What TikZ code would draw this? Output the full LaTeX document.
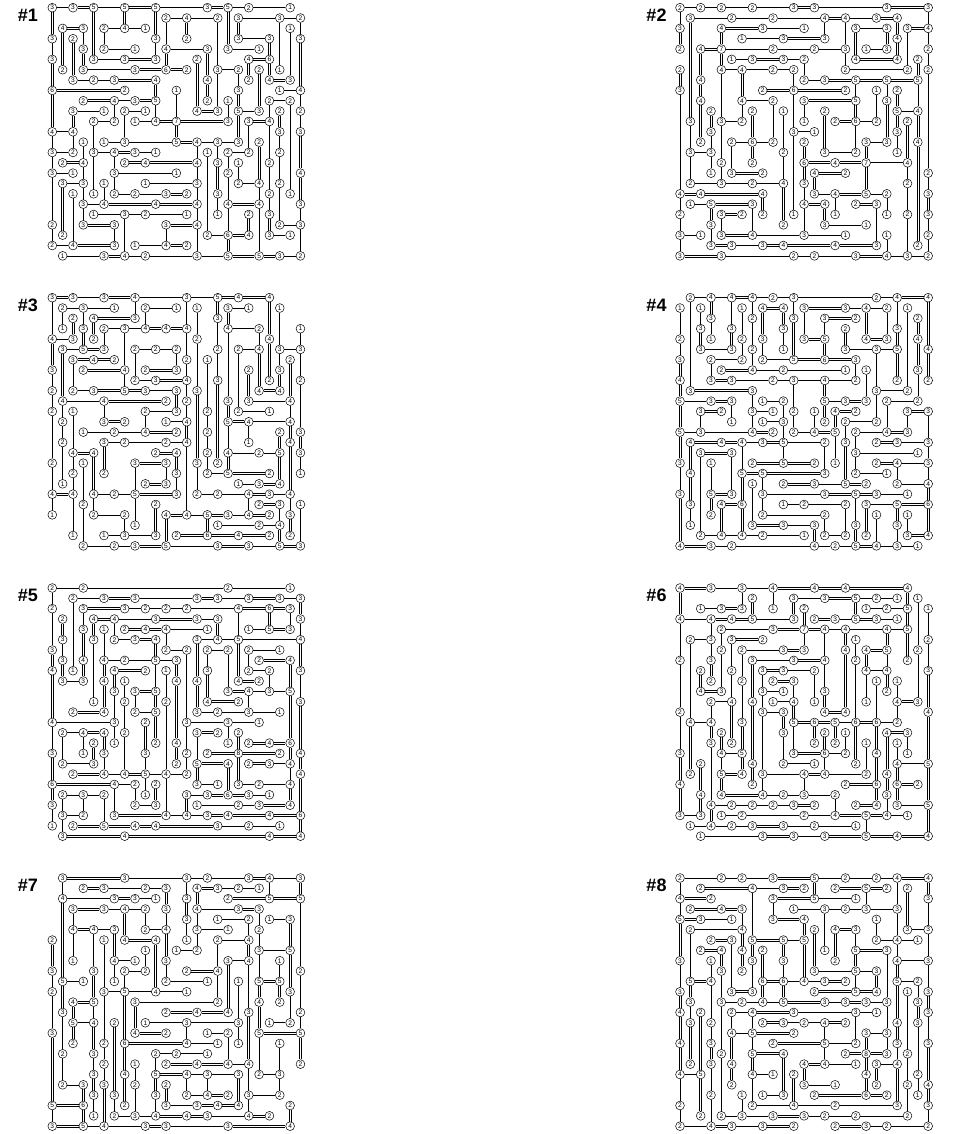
\documentclass[tikz,border=0pt]{standalone}
\usepackage{fontspec}
\setmainfont{Liberation Sans}
\tikzset{
  isl/.style={circle,draw=black,fill=white,line width=.5pt,minimum size=8.8pt,inner sep=0pt,font=\fontsize{6.6}{7}\selectfont},
  bridge/.style={line width=.6pt,draw=black},
  ttl/.style={font=\bfseries\fontsize{18}{20}\selectfont,inner sep=0pt}
}
\newcommand\Hb[3]{\ifnum#3=2
    \draw[bridge] ([yshift=1pt]#1.east) -- ([yshift=1pt]#2.west);
    \draw[bridge] ([yshift=-1pt]#1.east) -- ([yshift=-1pt]#2.west);
  \else \draw[bridge] (#1) -- (#2); \fi}
\newcommand\Vb[3]{\ifnum#3=2
    \draw[bridge] ([xshift=1pt]#1.south) -- ([xshift=1pt]#2.north);
    \draw[bridge] ([xshift=-1pt]#1.south) -- ([xshift=-1pt]#2.north);
  \else \draw[bridge] (#1) -- (#2); \fi}
\newcommand\Rw[2]{\gdef\prevc{}\gdef\prevl{0}%
  \foreach \cc/\nm/\lk in {#2}{%
    \node[isl] (\pz-\cc-#1) at ({\xo+\cc*10.34},{\yo-#1*10.34}) {\nm};
    \ifnum\prevl>0 \Hb{\pz-\prevc-#1}{\pz-\cc-#1}{\prevl}\fi
    \xdef\prevc{\cc}\xdef\prevl{\lk}}}
\newcommand\Vt[2]{\foreach \aa/\bb/\ty in {#2}{\Vb{\pz-#1-\aa}{\pz-#1-\bb}{\ty}}}
\begin{document}
\begin{tikzpicture}[x=1pt,y=1pt]
\useasboundingbox (0,0) rectangle (957,-1134);
\node[ttl] (t1) at (28,-15) {\#1};
\node[ttl] (t2) at (656.5,-15) {\#2};
\node[ttl] (t3) at (28,-305) {\#3};
\node[ttl] (t4) at (656.5,-305) {\#4};
\node[ttl] (t5) at (28,-595) {\#5};
\node[ttl] (t6) at (656.5,-595) {\#6};
\node[ttl] (t7) at (28,-885) {\#7};
\node[ttl] (t8) at (656.5,-885) {\#8};
% ---------------- 1
\def\pz{1}\def\xo{52.3}\def\yo{-7.7}
\Rw{0}{0/3/1,2/3/2,4/5/1,7/5/2,10/5/1,15/3/2,17/5/1,19/2/1,23/1/0}
\Rw{1}{11/2/1,13/4/1,16/2/0,18/3/1,22/3/1,24/2/0}
\Rw{2}{1/4/2,3/3/0,5/2/1,7/4/1,9/1/0,23/1/0}
\Rw{3}{0/3/0,2/2/0,10/3/0,13/2/0,18/3/1,21/3/0,24/3/0}
\Rw{4}{3/3/0,5/2/1,8/1/0,11/4/1,15/3/0,17/3/1,20/1/0}
\Rw{5}{0/3/0,4/3/1,7/3/2,10/3/0,14/2/0,19/4/2,21/6/0}
\Rw{6}{1/2/0,3/3/1,8/3/2,11/6/2,13/2/0,16/3/1,18/2/0,20/2/0,22/1/0}
\Rw{7}{2/3/1,4/2/1,6/3/2,10/4/0,15/4/0,19/2/0,21/4/2,23/3/0}
\Rw{8}{0/6/2,7/2/0,12/1/0,18/3/0,22/1/1,24/4/0}
\Rw{9}{3/2/2,6/4/1,8/3/2,10/5/0,15/2/0,17/1/0,21/2/1,23/2/0}
\Rw{10}{2/3/1,5/1/0,7/2/1,9/1/0,14/4/2,16/3/0,18/5/1,20/3/0,22/2/0,24/2/0}
\Rw{11}{4/2/1,6/2/0,8/1/1,10/4/2,12/7/2,17/3/0,19/3/2,21/4/0}
\Rw{12}{0/4/1,2/4/0,22/3/0,24/3/0}
\Rw{13}{3/1/0,5/1/1,7/3/1,12/5/2,14/4/1,16/3/1,18/3/0,20/2/0}
\Rw{14}{0/3/1,2/2/0,4/3/1,6/4/2,8/3/1,10/1/0,15/1/0,17/2/1,19/2/0,22/2/0}
\Rw{15}{1/2/2,3/4/0,7/2/2,9/4/2,14/4/0,16/3/0,18/1/0,21/2/0}
\Rw{16}{0/3/1,2/1/0,6/3/1,12/1/0,17/2/0,24/4/0}
\Rw{17}{1/3/1,3/3/0,5/1/0,9/1/1,14/3/0,18/2/1,20/4/0,22/2/0}
\Rw{18}{2/1/0,4/1/0,6/2/1,8/2/1,11/3/2,13/2/0,16/3/0,21/2/0,23/1/0}
\Rw{19}{3/3/1,5/4/2,10/4/2,14/4/0,17/4/2,20/4/0,24/3/0}
\Rw{20}{4/1/1,7/3/1,9/2/1,13/1/0,16/1/0,19/2/0,21/3/0}
\Rw{21}{0/2/0,3/3/2,6/3/0,11/3/2,14/4/0,22/2/1,24/3/0}
\Rw{22}{1/2/0,15/2/1,17/6/2,19/4/0,21/3/1,23/1/0}
\Rw{23}{0/2/1,2/4/2,6/3/0,8/1/1,11/4/2,13/2/0}
\Rw{24}{1/1/1,5/3/2,7/4/1,9/2/1,14/3/1,17/5/2,20/5/2,22/3/1,24/2/0}
\Vt{0}{0/3/2,3/5/1,5/8/2,8/12/2,12/14/1,14/16/1,16/21/1,21/23/1}
\Vt{1}{2/6/2,17/22/2}
\Vt{2}{3/7/2,10/12/2,12/14/1,18/23/1}
\Vt{3}{2/4/1,4/6/2,13/15/1,15/17/1,17/19/1,19/21/1}
\Vt{4}{0/5/2,11/14/1,14/18/1}
\Vt{5}{2/4/1,17/19/1}
\Vt{6}{9/11/1,14/16/1,16/18/1,21/23/1}
\Vt{7}{0/2/2,10/13/1,20/24/1}
\Vt{10}{0/3/2,3/5/1,7/9/2,9/11/1}
\Vt{11}{1/4/1,4/6/2,21/23/1}
\Vt{12}{8/11/1,11/13/2}
\Vt{13}{1/3/2}
\Vt{14}{5/10/2,13/15/1,15/17/1,17/19/1,19/21/1,21/24/1}
\Vt{15}{4/7/2,7/9/2,14/22/1}
\Vt{16}{1/6/1,6/10/1,13/15/1,15/18/2,18/20/1}
\Vt{17}{0/4/2,9/11/1,14/16/1,16/19/1,19/22/1,22/24/2}
\Vt{18}{1/3/2,6/8/1,8/10/2,10/13/2,15/17/1}
\Vt{19}{5/7/2,11/14/1,20/22/2}
\Vt{20}{6/10/2,13/17/2,17/19/1,19/24/1}
\Vt{21}{3/5/2,5/7/2,9/11/1,11/15/1,15/18/1,18/20/1,20/22/2}
\Vt{22}{1/6/1,10/12/2,12/14/1,14/17/1,17/21/1}
\Vt{23}{2/7/1,9/18/1}
\Vt{24}{1/3/1,3/8/2,8/10/1,10/12/1,12/16/2,16/19/2,19/21/1,21/24/1}
% ---------------- 2
\def\pz{2}\def\xo{680}\def\yo{-7.7}
\Rw{0}{0/2/1,2/2/1,4/2/1,7/2/1,11/3/2,13/3/1,20/3/2,24/3/0}
\Rw{1}{1/3/1,5/2/1,9/2/1,14/4/2,16/4/1,19/3/2,21/4/0}
\Rw{2}{0/3/0,4/4/2,8/3/1,12/1/0,17/3/1,20/3/0,22/3/2,24/4/0}
\Rw{3}{6/1/1,10/3/2,14/3/0,21/4/0}
\Rw{4}{0/2/0,2/4/2,4/7/1,9/2/1,13/2/1,16/3/0,18/1/1,20/3/0,24/2/0}
\Rw{5}{5/1/1,7/3/2,10/3/1,12/2/0,17/4/2,21/4/0,23/2/0}
\Rw{6}{0/2/0,4/4/1,6/4/1,9/2/1,11/2/0,16/2/1,22/2/0,24/2/0}
\Rw{7}{2/4/0,12/2/1,14/3/2,17/5/2,20/5/2,23/5/0}
\Rw{8}{0/3/0,8/2/2,11/6/2,16/2/0,19/1/0,21/2/0}
\Rw{9}{2/4/0,6/4/1,9/2/0,12/3/2,17/5/0,20/3/0}
\Rw{10}{3/2/0,7/2/0,10/1/0,14/2/0,21/5/1,23/4/0}
\Rw{11}{1/3/0,4/3/1,6/2/0,12/1/0,15/2/2,17/6/1,19/2/0,22/2/0}
\Rw{12}{3/3/0,11/3/1,13/1/0,21/3/0}
\Rw{13}{2/2/0,5/2/1,7/6/1,9/2/0,12/2/0,18/3/1,20/3/0,23/4/0}
\Rw{14}{1/3/1,3/3/0,10/2/0,14/3/1,17/2/0,21/1/0}
\Rw{15}{4/2/0,7/2/0,12/6/2,15/4/2,18/7/1,22/4/0}
\Rw{16}{3/1/0,5/3/2,8/2/0,13/4/2,16/2/0,24/2/0}
\Rw{17}{1/2/1,4/3/1,7/2/1,10/4/0,12/3/0,22/2/0}
\Rw{18}{0/4/2,2/4/2,8/4/0,13/3/1,15/4/2,18/5/1,20/2/0,24/3/0}
\Rw{19}{1/1/1,3/5/2,7/3/0,12/4/2,14/4/0,17/2/2,19/3/0}
\Rw{20}{0/2/0,4/3/2,6/2/0,8/2/0,11/1/0,15/1/0,20/1/0,22/2/0,24/3/0}
\Rw{21}{3/3/0,10/2/0,14/3/1,18/1/0}
\Rw{22}{0/3/1,2/1/0,4/3/2,7/4/1,12/3/1,16/1/0,20/1/0,24/2/0}
\Rw{23}{3/3/2,5/3/1,8/3/2,10/4/2,15/4/2,19/3/0,23/2/0}
\Rw{24}{0/3/2,4/3/1,11/2/1,13/2/1,17/3/2,20/4/1,22/3/1,24/2/0}
\Vt{0}{0/2/1,2/4/2,6/8/2,8/18/1,18/20/1,20/22/1,22/24/1}
\Vt{1}{1/11/2,11/14/1,14/17/1}
\Vt{2}{4/7/2,7/9/2,9/13/2}
\Vt{3}{10/12/2,12/14/1,14/16/1,19/21/2,21/23/1}
\Vt{4}{2/4/2,4/6/2,6/11/1,11/15/1,15/17/1,20/22/1}
\Vt{5}{13/16/1}
\Vt{6}{6/9/2,9/11/1}
\Vt{7}{10/13/2,13/15/2,19/22/1}
\Vt{8}{18/20/2}
\Vt{9}{9/13/1}
\Vt{10}{10/14/1,14/17/1,17/21/2}
\Vt{11}{6/8/1,8/12/1,12/20/1}
\Vt{12}{5/7/1,9/11/1,13/15/2,15/17/2,17/19/1,19/22/1}
\Vt{13}{16/18/2}
\Vt{14}{1/3/1,10/14/2,19/21/2}
\Vt{15}{18/20/1}
\Vt{16}{1/4/1,4/6/1}
\Vt{17}{2/5/2,7/9/1,9/11/2,11/14/1}
\Vt{18}{13/15/2,15/18/2}
\Vt{19}{8/11/1,19/23/1}
\Vt{20}{2/4/2,7/9/1,9/13/2,18/20/1,22/24/1}
\Vt{21}{1/3/2,3/5/2,8/10/2,10/12/2,12/14/1}
\Vt{22}{2/6/1,11/15/2,15/17/1,17/20/1,20/24/1}
\Vt{23}{5/7/2,7/10/1,10/13/2,13/23/2}
\Vt{24}{0/2/1,2/4/1,4/6/1,6/16/1,16/18/1,18/20/2,20/22/1,22/24/1}
% ---------------- 3
\def\pz{3}\def\xo{52.3}\def\yo{-297.7}
\Rw{0}{0/3/2,2/3/1,5/3/2,8/4/1,13/3/1,16/5/2,18/4/2,21/4/0}
\Rw{1}{1/2/1,3/3/1,6/1/0,9/2/1,12/1/0,14/1/0,17/3/1,19/1/0,22/1/0}
\Rw{2}{2/2/0,4/4/2,8/3/0,16/3/0}
\Rw{3}{1/1/0,3/3/0,5/2/1,7/3/1,9/4/2,11/4/2,13/4/0,17/4/1,20/2/0,24/1/0}
\Rw{4}{0/4/1,2/3/0,4/2/0,14/2/0,21/4/0}
\Rw{5}{1/3/1,3/5/2,5/3/0,8/2/1,10/2/1,12/2/0,16/2/0,18/2/1,20/4/0,22/3/1,24/3/0}
\Rw{6}{2/3/2,4/4/2,6/2/0,13/2/0,15/1/0,23/2/0}
\Rw{7}{0/3/0,3/2/2,7/4/0,9/2/2,12/3/0,19/2/0,22/3/0}
\Rw{8}{8/2/1,10/3/2,13/4/0,16/3/0,21/2/0,24/2/0}
\Rw{9}{0/2/0,2/2/1,4/3/2,7/5/2,9/3/1,12/3/0,14/3/0,20/4/2,22/4/0}
\Rw{10}{1/4/1,5/4/2,11/2/0,13/2/0,17/3/0,19/3/1,23/4/0}
\Rw{11}{0/2/0,2/1/0,9/2/1,12/3/0,15/2/0,18/2/1,21/1/0}
\Rw{12}{1/2/0,5/3/2,7/2/0,11/1/1,13/4/0,17/5/2,19/4/1,23/4/0}
\Rw{13}{3/1/1,6/2/1,9/4/2,12/2/0,15/2/0,22/2/0,24/3/0}
\Rw{14}{1/2/0,5/3/1,7/2/1,11/2/1,13/4/0,19/1/0,23/4/0}
\Rw{15}{2/4/2,4/4/0,10/2/2,12/4/0,15/2/0,17/4/1,20/2/1,22/5/0,24/3/0}
\Rw{16}{0/2/0,3/1/0,8/3/2,11/3/0,14/3/0,16/2/0}
\Rw{17}{2/2/0,5/2/0,12/3/0,15/2/1,17/5/2,21/2/0,24/1/0}
\Rw{18}{1/1/0,9/2/2,11/3/0,18/1/1,20/3/2,22/4/0}
\Rw{19}{0/4/2,2/4/0,4/4/1,6/2/1,8/5/2,12/3/0,14/2/1,16/2/1,19/4/2,21/3/1,23/4/0}
\Rw{20}{3/2/0,10/2/0,20/2/2,22/3/0,24/1/0}
\Rw{21}{0/1/0,4/2/1,7/2/0,11/4/2,13/4/1,15/5/2,17/3/1,19/4/2,21/2/0,23/3/0}
\Rw{22}{8/1/0,16/1/1,20/2/1,22/4/0}
\Rw{23}{2/1/0,5/1/1,7/3/1,10/3/0,12/2/2,15/6/2,18/4/2,21/2/0,23/2/0}
\Rw{24}{3/2/1,6/2/1,8/3/2,11/5/1,16/3/2,19/3/1,22/5/2,24/3/0}
\Vt{0}{0/4/1,4/7/2,7/9/1,9/11/1,11/16/1,16/19/1,19/21/1}
\Vt{1}{1/3/1,5/10/2,10/12/1,12/14/1,14/18/1}
\Vt{2}{2/4/2,6/9/1,11/15/1,15/17/1,17/19/1,19/23/1}
\Vt{3}{1/3/1,3/5/2,16/20/1,20/24/1}
\Vt{4}{2/4/2,15/19/2,19/21/1}
\Vt{5}{3/5/1,10/12/1,14/17/2}
\Vt{7}{3/7/1,7/9/1,21/23/1}
\Vt{8}{0/2/1,5/8/1,16/19/1,19/22/1}
\Vt{9}{1/3/1,11/13/1}
\Vt{10}{20/23/2}
\Vt{11}{16/18/1,21/24/2}
\Vt{12}{5/7/1,9/11/2,15/17/2,17/19/1}
\Vt{13}{0/3/1,3/6/1,6/8/1,8/10/1,10/12/1,12/14/2,14/21/1}
\Vt{14}{1/4/1,4/9/1,9/16/2,16/19/1}
\Vt{15}{6/11/1,11/13/1,13/15/1,15/17/1,21/23/2}
\Vt{16}{0/2/2,2/5/1,5/8/1,8/16/2}
\Vt{17}{1/3/2,3/10/1,10/12/2,12/15/1,15/17/2}
\Vt{18}{5/11/1}
\Vt{19}{7/10/2,12/14/1,19/21/1}
\Vt{20}{3/5/1,5/9/2}
\Vt{21}{0/4/2,4/8/2}
\Vt{22}{1/5/1,5/7/1,7/9/2,13/15/2,15/18/2,20/22/1,22/24/2}
\Vt{23}{6/10/2,10/12/1,12/14/2,14/19/2,19/21/1,21/23/2}
\Vt{24}{3/5/1,5/8/1,8/13/1,13/15/2,15/17/1,20/24/1}
% ---------------- 4
\def\pz{4}\def\xo{680}\def\yo{-297.7}
\Rw{0}{1/2/1,3/4/1,5/4/2,7/4/1,9/2/1,11/3/1,19/2/1,21/4/2,24/4/0}
\Rw{1}{0/1/0,2/1/0,6/1/0,8/4/2,10/4/0,12/3/2,16/3/1,18/4/1,20/2/0,22/1/0}
\Rw{2}{3/3/0,7/2/0,11/3/0,14/3/2,17/2/0,23/2/0}
\Rw{3}{2/3/0,5/3/0,10/3/0,16/2/0,21/3/0}
\Rw{4}{0/2/0,3/1/0,6/2/0,8/3/0,12/3/2,14/5/0,18/4/2,20/3/0,23/4/0}
\Rw{5}{2/3/1,5/3/0,7/2/0,10/1/0,16/3/1,19/3/1,21/5/0,24/4/0}
\Rw{6}{0/3/0,3/2/1,6/2/0,8/2/1,11/5/2,14/6/2,17/3/0}
\Rw{7}{4/2/2,7/4/1,10/2/1,16/1/0,18/1/0,23/3/0}
\Rw{8}{0/4/0,3/3/2,5/3/1,9/2/1,11/3/1,14/4/1,17/2/0,21/2/0,24/2/0}
\Rw{9}{1/3/2,7/3/0,19/3/1,22/2/0}
\Rw{10}{0/5/1,3/3/2,5/3/0,8/1/1,10/2/0,14/5/1,16/3/2,18/3/0,20/2/1,23/2/0}
\Rw{11}{2/3/2,4/2/0,7/3/1,9/1/0,11/2/0,13/1/0,15/4/2,17/2/0,22/3/2,24/3/0}
\Rw{12}{5/1/0,8/1/1,10/3/0,14/2/0,16/2/1,19/2/0}
\Rw{13}{0/5/1,2/3/1,7/4/2,9/2/0,11/2/1,13/4/2,15/5/0,17/2/1,20/4/2,22/3/0}
\Rw{14}{1/4/2,4/4/2,6/4/1,8/3/2,10/5/1,14/2/0,16/3/0,19/2/2,21/3/1,24/3/0}
\Rw{15}{2/3/2,5/3/0,17/3/1,23/1/0}
\Rw{16}{0/3/0,3/1/0,7/2/2,10/5/2,13/2/0,15/1/0,19/2/2,21/4/1,24/3/0}
\Rw{17}{1/4/0,6/5/2,8/5/2,14/3/0,17/2/1,20/1/0}
\Rw{18}{7/1/0,10/2/2,13/3/1,16/5/2,18/2/0,21/2/1,24/4/0}
\Rw{19}{0/3/0,3/5/2,5/3/0,8/3/1,14/3/2,17/5/2,19/3/1,22/1/0}
\Rw{20}{1/3/0,4/4/2,6/6/0,10/1/1,12/2/1,16/2/0,18/3/1,21/5/2,24/6/0}
\Rw{21}{3/2/0,8/2/1,14/2/0,19/1/0,22/1/0}
\Rw{22}{1/1/0,7/3/2,10/3/1,13/3/0,17/3/0,21/3/0}
\Rw{23}{2/2/1,4/4/1,6/4/1,8/2/1,12/1/0,14/2/1,16/2/0,18/2/0,22/3/2,24/4/0}
\Rw{24}{0/4/2,3/3/1,5/2/1,13/4/1,15/2/1,17/5/2,19/4/1,21/3/1,23/1/0}
\Vt{0}{1/4/1,4/6/1,6/8/2,8/10/2,10/13/2,13/16/2,16/19/1,19/24/2}
\Vt{1}{0/9/1,14/17/2,17/20/2,20/22/1}
\Vt{2}{1/3/1,3/5/2,11/13/1,15/23/1}
\Vt{3}{0/2/2,2/4/1,6/8/1,16/19/1,19/21/2}
\Vt{4}{20/23/2}
\Vt{5}{0/3/1,3/5/2,10/12/1,15/19/1}
\Vt{6}{1/4/1,4/6/1,14/17/1,17/20/2,20/23/2}
\Vt{7}{0/2/1,2/5/1,5/7/1,9/11/1,11/13/1,18/22/1}
\Vt{8}{1/4/2,4/6/1,17/19/1,19/21/1}
\Vt{10}{1/3/2,3/5/1,10/12/1,12/14/1,14/16/1}
\Vt{11}{0/2/1,2/6/2,8/11/1,11/13/1}
\Vt{12}{1/4/1}
\Vt{13}{11/13/1,22/24/2}
\Vt{14}{2/4/1,4/6/2,8/10/2,10/12/2,14/17/1,21/23/1}
\Vt{15}{11/13/2,13/16/1}
\Vt{16}{3/5/2,12/14/1,14/18/2,20/23/1}
\Vt{17}{6/8/1,13/15/1,15/17/1,19/22/1,22/24/2}
\Vt{18}{1/4/2,7/10/1,20/23/2}
\Vt{19}{5/9/1,9/12/1,21/24/1}
\Vt{20}{1/4/1,10/13/1}
\Vt{21}{0/3/1,3/5/2,5/8/2,16/18/1,20/22/2,22/24/1}
\Vt{22}{1/9/1,11/13/1,21/23/1}
\Vt{23}{2/4/2,4/7/2,7/10/1}
\Vt{24}{0/5/2,5/8/2,11/14/1,14/16/1,16/18/1,18/20/2,20/23/2}
% ---------------- 5
\def\pz{5}\def\xo{52.3}\def\yo{-588}
\Rw{0}{0/2/1,3/2/1,17/2/1,23/1/0}
\Rw{1}{2/2/1,5/3/2,8/3/1,14/3/2,16/3/1,19/3/2,22/3/1,24/3/0}
\Rw{2}{0/2/0,3/3/2,7/3/1,9/2/1,11/2/1,13/2/1,18/4/2,21/6/2,23/3/0}
\Rw{3}{1/2/0,4/4/2,6/4/1,10/3/2,14/3/1,16/3/0,24/3/0}
\Rw{4}{3/3/0,5/1/0,7/2/2,9/4/2,11/4/1,15/1/0,19/1/1,21/5/2,23/3/0}
\Rw{5}{1/3/0,4/3/0,6/2/1,8/3/2,10/4/0,14/3/1,16/4/1,18/5/1,24/4/0}
\Rw{6}{0/3/0,11/2/1,13/2/0,15/2/1,17/2/0,19/2/1,22/1/0}
\Rw{7}{1/3/0,3/4/0,5/4/1,7/2/1,10/5/1,12/3/0,20/2/2,23/4/0}
\Rw{8}{0/4/0,2/1/0,6/4/2,9/2/0,11/1/0,15/3/0,19/2/1,21/2/0,24/3/0}
\Rw{9}{1/3/1,3/3/0,5/4/0,7/1/0,12/4/0,14/4/0,18/4/2,20/2/0}
\Rw{10}{6/3/0,8/3/2,10/5/0,17/3/2,19/4/1,21/3/1,23/5/0}
\Rw{11}{4/1/0,7/2/0,11/2/0,15/4/2,18/2/0,24/3/0}
\Rw{12}{2/2/2,5/4/0,8/2/1,10/5/0,14/3/1,16/2/1,19/3/1,22/1/0}
\Rw{13}{0/4/1,6/3/0,9/2/0,13/3/1,17/3/1,20/1/0}
\Rw{14}{1/2/1,3/4/2,5/4/0,7/2/0,14/3/2,16/2/0,18/2/0}
\Rw{15}{4/2/0,6/1/0,10/2/0,12/4/0,17/1/0,19/2/2,21/4/2,23/6/0}
\Rw{16}{0/3/0,3/1/0,5/3/0,9/3/0,13/2/0,15/2/2,18/8/2,22/2/0,24/4/0}
\Rw{17}{1/2/1,4/3/0,12/2/0,14/5/2,17/4/0,19/2/2,21/3/1,23/4/0}
\Rw{18}{2/2/2,5/4/1,7/4/2,9/5/1,11/4/1,13/2/0,24/4/0}
\Rw{19}{0/6/2,6/4/1,8/2/0,10/2/0,14/3/1,16/1/0,18/3/1,20/2/1,23/4/0}
\Rw{20}{1/2/1,3/3/1,5/2/0,9/1/0,13/3/1,15/3/2,17/6/2,19/3/1,21/1/0}
\Rw{21}{0/3/0,8/2/1,10/3/0,14/1/1,18/2/1,20/3/2,23/4/0}
\Rw{22}{1/3/1,3/2/0,6/3/2,11/4/1,13/4/1,15/3/2,17/4/2,21/4/2,24/6/0}
\Rw{23}{0/1/0,2/2/2,5/5/2,8/4/2,10/4/2,16/3/1,19/2/1,22/1/0}
\Rw{24}{1/3/2,7/4/2,21/4/2,24/4/0}
\Vt{0}{0/2/1,2/6/1,6/8/2,8/13/2,13/16/1,16/19/2,19/21/2,21/23/1}
\Vt{1}{3/5/2,5/7/1,7/9/2,14/17/1,20/22/1,22/24/1}
\Vt{2}{1/8/1}
\Vt{3}{2/4/1,4/7/2,7/9/2,14/16/1,20/22/1}
\Vt{4}{3/5/2,5/11/1,15/17/2}
\Vt{5}{4/7/1,7/9/2,9/12/2,14/16/2,16/18/1,20/23/1}
\Vt{6}{3/5/1,8/10/2,10/13/1,13/15/1,19/22/1}
\Vt{7}{9/11/1,11/14/1,14/18/1}
\Vt{8}{10/12/1,19/21/1}
\Vt{9}{13/16/2,16/18/1,18/20/1}
\Vt{10}{5/7/2,7/10/1,10/12/2,12/15/2,19/21/2}
\Vt{11}{4/6/1,8/11/1,11/18/1,18/22/1}
\Vt{12}{7/9/2,9/15/2,15/17/2}
\Vt{13}{6/13/1,13/16/1,16/18/1,20/22/2}
\Vt{14}{5/9/2,9/12/2,14/17/1,17/19/2}
\Vt{15}{6/8/1,8/11/2}
\Vt{16}{3/5/2}
\Vt{17}{6/10/1,13/15/1,17/20/2}
\Vt{18}{2/5/1,5/9/2,14/16/2,16/19/2}
\Vt{19}{6/8/1,10/12/1}
\Vt{21}{2/4/2,8/10/1}
\Vt{23}{2/4/1,7/10/2,10/15/2,15/17/2,17/19/1,19/21/2}
\Vt{24}{1/3/2,3/5/1,5/8/2,8/11/1,11/16/2,16/18/2,18/22/2,22/24/2}
% ---------------- 6
\def\pz{6}\def\xo{680}\def\yo{-588}
\Rw{0}{0/4/2,3/3/1,6/3/1,9/4/2,13/4/2,16/4/2,22/4/0}
\Rw{1}{7/2/0,11/3/1,14/3/2,17/5/1,19/2/1,21/1/0,23/1/0}
\Rw{2}{2/1/1,4/3/2,6/3/0,9/1/0,12/2/0,18/1/1,20/2/1,22/5/0,24/1/0}
\Rw{3}{0/4/1,3/4/2,5/4/2,7/5/1,11/3/0,13/2/2,15/3/1,17/5/2,19/3/1,21/1/0}
\Rw{4}{4/2/1,9/3/2,12/7/2,14/4/1,16/4/1,20/4/1,22/5/0}
\Rw{5}{1/2/1,3/3/0,5/3/2,8/2/0,17/1/0,24/2/0}
\Rw{6}{4/2/0,6/2/1,10/3/2,12/3/0,16/4/0,18/4/2,20/5/0,23/2/0}
\Rw{7}{0/2/0,3/3/0,7/3/1,11/3/2,14/4/0,17/2/0,22/2/0}
\Rw{8}{2/2/0,5/2/0,8/3/2,10/3/1,13/2/0,18/4/1,20/4/0,24/3/0}
\Rw{9}{3/2/0,6/2/0,9/2/2,11/3/0,19/1/0,21/1/0}
\Rw{10}{2/4/2,4/3/0,8/3/1,10/1/0,14/3/0,20/2/0}
\Rw{11}{3/2/1,5/4/0,7/4/0,9/1/1,11/4/0,13/1/0,18/1/0,21/4/2,23/3/0}
\Rw{12}{0/2/0,8/3/1,10/3/0,14/4/2,16/4/0,24/4/0}
\Rw{13}{1/4/1,3/4/0,6/3/0,11/5/2,13/6/2,15/5/1,17/6/2,19/6/1,21/2/0}
\Rw{14}{4/2/0,10/3/0,14/2/0,16/1/0,20/4/2,22/3/0}
\Rw{15}{3/3/0,5/2/0,13/2/0,15/2/0,18/1/0,21/1/0}
\Rw{16}{0/3/0,4/4/1,6/5/0,11/3/2,14/6/1,16/2/0,19/4/0,22/1/0}
\Rw{17}{2/2/0,7/4/0,10/2/1,13/1/0,17/2/0,21/4/1,24/5/0}
\Rw{18}{1/2/0,4/5/2,6/4/0,8/3/1,12/4/2,14/4/1,18/2/0,20/4/0}
\Rw{19}{0/4/0,7/2/0,16/2/2,19/6/0,21/6/2,23/2/0}
\Rw{20}{2/4/0,4/4/2,8/4/1,10/2/1,12/3/1,15/2/0,20/3/0}
\Rw{21}{3/4/1,5/2/1,7/2/1,9/2/1,11/3/2,13/2/0,17/2/2,19/4/0,21/3/1,24/5/0}
\Rw{22}{0/3/1,2/3/0,4/1/1,6/2/1,12/2/1,15/4/2,18/5/2,20/4/1,22/1/0}
\Rw{23}{1/1/1,3/4/1,5/2/1,7/3/2,10/3/1,13/2/1,17/1/0}
\Rw{24}{2/1/1,8/3/2,11/3/1,14/3/2,18/5/2,21/4/2,24/4/0}
\Vt{0}{0/3/2,3/7/1,7/12/1,12/16/1,16/19/2,19/22/2}
\Vt{1}{5/13/1,13/18/2}
\Vt{2}{8/10/2,17/20/2,20/22/2}
\Vt{3}{3/5/1,5/7/1,7/9/2,11/13/1,13/15/2,15/21/1,21/23/2}
\Vt{4}{4/6/1,6/10/1,14/16/2,16/18/1,18/20/2}
\Vt{5}{5/8/1,8/11/1,11/15/2}
\Vt{6}{0/2/1,6/9/1,9/13/1,13/16/2,16/18/2}
\Vt{7}{1/3/2,7/11/2,11/17/2,17/19/2}
\Vt{8}{8/10/1,10/12/1,12/18/1,18/20/1}
\Vt{9}{0/2/1}
\Vt{10}{12/14/2,14/17/1}
\Vt{11}{1/3/2,9/11/1,11/13/2,13/16/1}
\Vt{12}{2/4/2,4/6/1,18/20/1}
\Vt{13}{8/11/1,13/15/2}
\Vt{14}{4/7/1,7/10/1,10/12/2,14/16/2,16/18/1}
\Vt{15}{13/15/2,20/22/1}
\Vt{16}{4/6/2,6/12/2,14/16/1}
\Vt{17}{1/3/2,5/7/1,7/13/1,13/17/2}
\Vt{18}{6/8/2,8/11/1,15/18/1,22/24/1}
\Vt{19}{9/13/1,13/16/2,16/19/2,19/21/2}
\Vt{20}{4/6/2,6/8/1,8/10/2,14/18/2,18/20/2,20/22/1}
\Vt{21}{9/11/1,11/13/1,15/17/1,17/19/2,19/21/2}
\Vt{22}{0/2/2,2/4/2,4/7/2,14/16/1}
\Vt{23}{1/6/1,6/11/1}
\Vt{24}{2/5/1,5/8/1,8/12/2,12/17/2,17/21/2,21/24/2}
% ---------------- 7
\def\pz{7}\def\xo{52.3}\def\yo{-878}
\Rw{0}{1/3/2,7/3/1,13/3/1,15/2/1,19/3/2,21/4/1,24/3/0}
\Rw{1}{3/2/2,5/3/1,9/2/1,11/3/0,14/4/2,16/3/1,18/2/1,20/1/0}
\Rw{2}{1/4/1,6/3/2,8/3/1,10/1/0,13/3/0,17/2/2,21/5/2,24/5/0}
\Rw{3}{2/3/2,5/3/1,7/4/1,9/2/0,11/3/0,14/4/1,18/3/2,20/3/0}
\Rw{4}{13/3/0,16/1/1,19/2/0,21/1/1,23/3/0}
\Rw{5}{2/4/2,4/4/1,6/3/0,9/2/1,11/4/0,14/3/1,17/1/0,20/2/0}
\Rw{6}{0/2/0,5/1/0,7/4/2,10/4/0,13/1/0,16/2/1,19/4/0}
\Rw{7}{9/1/0,12/1/1,14/2/0,20/3/1,23/5/0}
\Rw{8}{2/1/0,6/4/1,8/1/0,11/3/0,17/3/1,19/4/0,22/1/0}
\Rw{9}{0/3/0,4/3/0,7/2/1,9/2/0,13/2/2,16/4/0,24/2/0}
\Rw{10}{1/5/1,3/1/0,6/1/0,11/2/1,15/1/0,18/1/0,20/5/2,22/5/0}
\Rw{11}{0/2/0,5/3/1,7/5/1,10/4/1,13/1/0,23/3/0}
\Rw{12}{2/4/2,4/5/0,8/3/1,16/2/0,20/4/0,22/2/0}
\Rw{13}{1/3/0,11/2/2,14/4/2,17/4/0,19/3/0,24/2/0}
\Rw{14}{2/5/1,4/4/0,6/2/0,9/1/1,13/3/1,18/3/0,21/1/1,23/2/0}
\Rw{15}{0/3/0,8/4/2,11/2/0,15/1/1,17/2/0,20/5/2,24/5/0}
\Rw{16}{2/2/0,5/2/0,7/6/2,13/4/1,16/1/0,18/1/0,22/1/0}
\Rw{17}{1/2/0,4/3/0,10/2/1,12/2/1,15/1/0}
\Rw{18}{5/2/0,8/1/0,11/2/2,14/4/2,17/4/1,19/4/0,24/2/0}
\Rw{19}{4/3/0,7/4/0,10/5/2,13/4/1,15/3/1,18/3/0,20/2/1,22/3/0}
\Rw{20}{1/2/1,3/3/0,5/3/0,8/2/0,11/2/0}
\Rw{21}{4/3/0,6/3/0,10/3/0,13/2/1,15/4/2,17/2/0,19/3/1,22/2/0}
\Rw{22}{0/5/2,3/6/0,7/2/0,11/3/1,14/3/2,16/4/2,18/4/0,23/2/0}
\Rw{23}{4/1/0,6/2/1,8/3/1,10/4/2,13/4/2,15/3/1,19/4/2,21/2/0}
\Rw{24}{0/3/2,3/5/1,5/4/1,9/3/2,11/3/1,17/3/2,23/4/0}
\Vt{0}{6/9/2,9/11/1,11/15/1,15/22/2,22/24/1}
\Vt{1}{0/2/1,2/10/2,10/13/2,13/17/1,17/20/1}
\Vt{2}{3/5/1,5/8/1,12/14/2,14/16/2}
\Vt{3}{20/22/2,22/24/2}
\Vt{4}{5/9/1,9/12/2,12/14/1,14/17/2,17/19/1,19/21/2,21/23/1}
\Vt{5}{6/11/1,11/16/1,16/18/1,18/20/1,20/24/2}
\Vt{6}{5/8/2,8/10/1,14/21/2,21/23/1}
\Vt{7}{3/6/2,9/11/1,11/16/2,16/19/2,19/22/2}
\Vt{8}{12/15/2,18/20/1,20/23/1}
\Vt{9}{3/5/1,7/9/1}
\Vt{10}{6/11/2,17/19/1,19/21/2,21/23/1}
\Vt{11}{1/3/2,3/5/1,5/8/2,8/10/1,20/22/2}
\Vt{13}{0/2/1,2/4/2,4/6/1,14/16/1,19/21/1}
\Vt{14}{1/3/2,3/5/1,5/7/1}
\Vt{15}{19/21/1}
\Vt{16}{6/9/1,9/12/1}
\Vt{17}{8/13/2,15/18/1}
\Vt{18}{10/14/1,14/16/1,19/22/2}
\Vt{19}{4/6/1,6/8/2,8/13/1,13/18/2,18/21/1,21/23/1}
\Vt{20}{3/5/1,5/7/1,7/10/1,10/12/2,12/15/2,15/19/1}
\Vt{21}{0/2/1}
\Vt{22}{8/10/1,10/12/2,16/19/1,19/21/1}
\Vt{23}{4/7/2,7/11/2,11/14/1,22/24/2}
\Vt{24}{0/2/2,2/9/1,9/13/1,13/15/1,15/18/2}
% ---------------- 8
\def\pz{8}\def\xo{680}\def\yo{-878}
\Rw{0}{0/2/1,4/2/1,6/2/1,9/3/2,13/5/1,16/2/1,19/2/1,21/4/2,24/4/0}
\Rw{1}{2/2/2,7/4/1,10/3/2,12/2/0,15/2/2,18/5/2,20/2/0,22/2/0}
\Rw{2}{0/4/2,3/2/0,9/3/2,13/5/1,17/1/0,24/3/0}
\Rw{3}{1/2/2,4/4/2,6/3/0,11/1/1,14/3/1,16/2/1,18/3/1,21/3/0}
\Rw{4}{0/5/2,2/3/1,5/1/0,9/3/2,12/4/0,19/1/0}
\Rw{5}{1/2/1,6/4/0,13/2/0,15/4/2,17/3/0,22/3/1,24/3/0}
\Rw{6}{3/2/2,5/3/0,7/5/2,10/5/1,12/5/0,19/2/1,21/4/1,23/1/0}
\Rw{7}{2/2/2,4/4/0,6/4/0,8/2/0,14/1/0,17/5/2,20/3/0}
\Rw{8}{0/3/0,3/1/0,7/3/0,10/3/0,15/2/0,21/4/1,24/3/0}
\Rw{9}{4/3/0,6/2/0,13/3/1,17/5/1,19/3/0}
\Rw{10}{1/5/2,3/4/0,8/6/2,10/6/1,12/4/1,14/3/2,16/2/0,21/5/1,23/2/0}
\Rw{11}{0/3/0,5/3/2,7/3/0,13/2/2,17/5/2,19/4/0,22/1/0,24/3/0}
\Rw{12}{1/3/0,4/3/1,6/2/1,8/4/1,10/5/2,14/3/1,16/3/2,18/3/1,20/3/0,23/3/0}
\Rw{13}{0/4/0,2/2/0,5/2/1,7/4/2,11/3/1,17/3/1,19/1/0,24/3/0}
\Rw{14}{1/3/0,3/2/0,8/2/2,10/3/1,12/2/1,14/4/2,16/2/0,21/4/0,23/3/0}
\Rw{15}{5/4/1,7/5/2,11/2/0,18/3/1,20/3/0}
\Rw{16}{0/4/0,3/3/0,9/2/2,14/5/1,17/2/0,21/3/0,24/3/0}
\Rw{17}{4/2/0,7/5/2,10/4/0,16/2/2,18/8/2,20/3/0,22/2/0}
\Rw{18}{1/2/0,3/3/0,5/4/0,12/4/2,14/4/1,17/1/0,19/3/1,21/4/0}
\Rw{19}{0/4/1,2/5/0,7/4/1,9/1/0,11/2/0,18/4/0,23/2/0}
\Rw{20}{5/2/0,12/3/1,15/1/0,19/2/0,22/2/0,24/4/0}
\Rw{21}{3/2/0,6/1/0,8/1/1,10/3/0,13/2/2,18/6/2,20/2/0,23/1/0}
\Rw{22}{0/2/0,7/2/1,11/4/1,15/2/1,21/3/0,24/3/0}
\Rw{23}{2/2/0,4/2/1,6/3/1,9/3/2,12/3/1,14/2/1,17/2/1,22/2/0}
\Rw{24}{0/2/1,3/4/2,5/3/1,8/3/2,11/2/0,15/2/2,18/3/1,20/2/1,24/2/0}
\Vt{0}{0/2/1,2/4/1,4/8/2,8/11/1,11/13/2,13/16/2,16/19/2,19/22/1,22/24/1}
\Vt{1}{5/10/1,10/12/2,12/14/1,14/18/2}
\Vt{2}{13/19/2,19/23/2}
\Vt{3}{8/10/1,10/14/1,14/16/1,16/18/2,18/21/1,21/24/1}
\Vt{4}{7/9/2,9/12/1,12/17/1,17/23/1}
\Vt{5}{6/11/1,13/15/1,15/18/2,18/20/2}
\Vt{6}{3/5/1,5/7/2,7/9/2,21/23/1}
\Vt{7}{1/6/1,6/8/2,8/11/1,13/15/1,15/17/1,17/19/2,19/22/1}
\Vt{8}{7/10/2,10/12/2}
\Vt{9}{2/4/1}
\Vt{10}{6/8/2,8/10/1,10/12/2,17/21/2}
\Vt{11}{19/22/2}
\Vt{12}{4/6/2,6/10/2,18/20/2}
\Vt{13}{0/2/2,5/9/2}
\Vt{14}{3/7/1,14/16/1,16/18/1}
\Vt{15}{5/8/2}
\Vt{17}{5/7/1,7/9/2,9/11/1,13/16/1}
\Vt{18}{1/3/1,15/17/2,17/19/2,19/21/2}
\Vt{19}{4/6/1,9/11/2,18/20/2}
\Vt{20}{7/12/1,12/15/1,15/17/1}
\Vt{21}{0/3/1,3/6/1,6/8/1,8/10/2,10/14/2,14/16/2,16/18/1,18/22/2}
\Vt{22}{1/5/2,11/17/1,17/20/1,20/23/1}
\Vt{23}{10/12/1,12/14/2,14/19/1,19/21/1}
\Vt{24}{0/2/2,2/5/1,5/8/1,8/11/1,11/13/2,13/16/1,16/20/2,20/22/2,22/24/1}
\end{tikzpicture}
\end{document}
